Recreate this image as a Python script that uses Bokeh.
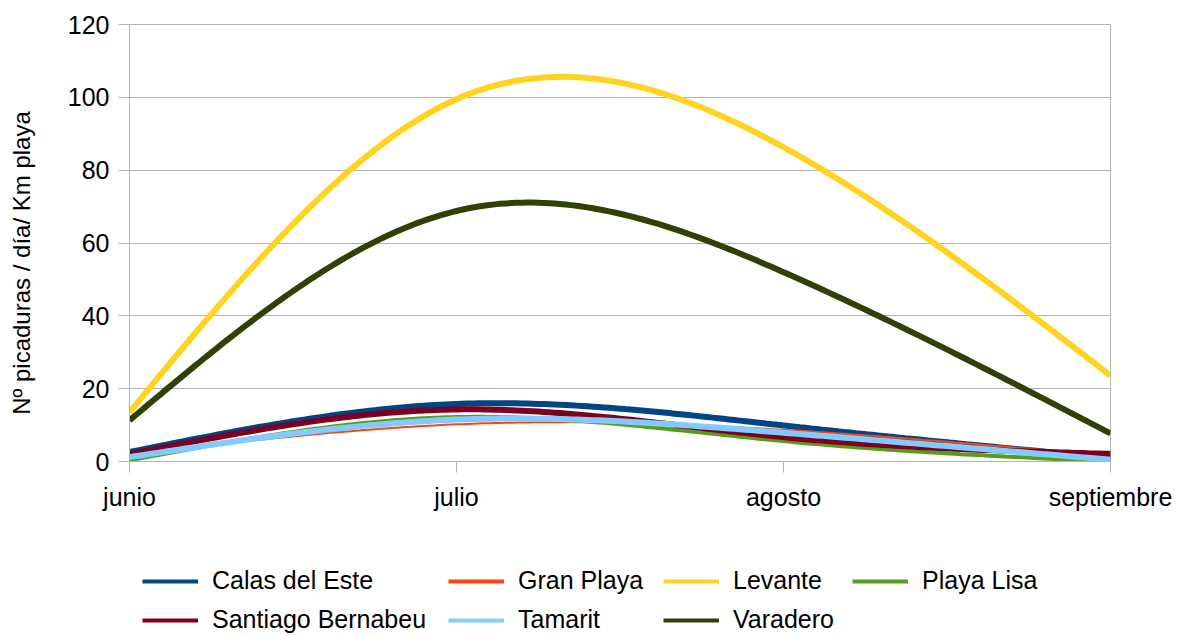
import numpy as np
from bokeh.plotting import figure
from bokeh.layouts import column
from bokeh.models import Range1d, FixedTicker, Legend, LegendItem
from bokeh.embed import file_html
from bokeh.resources import INLINE

# ---- data ----
months = ["junio", "julio", "agosto", "septiembre"]
series_names = ["Calas del Este", "Gran Playa", "Levante", "Playa Lisa",
                "Santiago Bernabeu", "Tamarit", "Varadero"]
calas_del_este = [2.6, 15.8, 9.9, 1.0]
gran_playa = [1.9, 10.2, 8.7, 1.5]
levante = [13.5, 99.5, 86.3, 23.6]
playa_lisa = [0.3, 12.2, 5.6, 0.0]
santiago_bernabeu = [2.0, 14.3, 6.7, 2.1]
tamarit = [1.2, 11.5, 7.9, 0.5]
varadero = [11.3, 68.8, 52.0, 7.7]
y_ticks = [0, 20, 40, 60, 80, 100, 120]
y_title = "Nº picaduras / día/ Km playa"

series_values = [calas_del_este, gran_playa, levante, playa_lisa,
                 santiago_bernabeu, tamarit, varadero]
colors = ["#004586", "#ff420e", "#ffd320", "#579d1c", "#7e0021", "#83caff", "#314004"]
widths = [6, 2, 6, 4, 6, 6, 6]


def smooth(vals, n=60):
    """Natural cubic spline rendering of a series (uniform category spacing)."""
    y = np.asarray(vals, dtype=float)
    k = len(y)
    x = np.arange(k, dtype=float)
    A = np.zeros((k, k))
    b = np.zeros(k)
    A[0, 0] = 1
    A[-1, -1] = 1
    for i in range(1, k - 1):
        A[i, i - 1] = 1
        A[i, i] = 4
        A[i, i + 1] = 1
        b[i] = 6 * (y[i - 1] - 2 * y[i] + y[i + 1])
    M = np.linalg.solve(A, b)
    xs, ys = [], []
    for i in range(k - 1):
        t = np.linspace(0, 1, n, endpoint=(i == k - 2))
        s = (M[i] * (1 - t) ** 3 / 6 + M[i + 1] * t ** 3 / 6
             + (y[i] - M[i] / 6) * (1 - t) + (y[i + 1] - M[i + 1] / 6) * t)
        xs.extend(x[i] + t)
        ys.extend(s)
    return xs, ys


FONT = "Liberation Sans"
GRID = "#b3b3b3"

p = figure(width=1178, height=530, output_backend="svg", toolbar_location=None,
           x_range=Range1d(0, 3), y_range=Range1d(0, 120),
           min_border_left=129, min_border_right=68, min_border_top=24,
           min_border_bottom=69)

p.background_fill_color = "white"
p.border_fill_color = "white"
p.outline_line_color = GRID
p.outline_line_width = 1

p.xgrid.grid_line_color = None
p.ygrid.grid_line_color = GRID
p.ygrid.grid_line_width = 1

# axes
p.xaxis.ticker = FixedTicker(ticks=list(range(len(months))))
p.xaxis.major_label_overrides = {i: m for i, m in enumerate(months)}
p.yaxis.ticker = FixedTicker(ticks=y_ticks)
for ax in (p.xaxis, p.yaxis):
    ax.axis_line_color = GRID
    ax.major_tick_line_color = GRID
    ax.major_tick_in = 0
    ax.major_tick_out = 11
    ax.minor_tick_line_color = None
    ax.major_label_text_font = FONT
    ax.major_label_text_font_size = "25px"
    ax.major_label_text_color = "black"
p.xaxis.major_label_standoff = 10
p.yaxis.major_label_standoff = 9
# trailing no-break spaces nudge the centred title slightly down, as in the original
p.yaxis.axis_label = y_title + "\u00a0" * 6
p.yaxis.axis_label_text_font = FONT
p.yaxis.axis_label_text_font_size = "24px"
p.yaxis.axis_label_text_font_style = "normal"
p.yaxis.axis_label_text_color = "black"
p.yaxis.axis_label_standoff = 30

for vals, c, w in zip(series_values, colors, widths):
    xs, ys = smooth(vals)
    p.line(xs, ys, line_color=c, line_width=w)

# ---- legend figure ----
q = figure(width=1178, height=106, output_backend="svg", toolbar_location=None,
           x_range=Range1d(0, 1), y_range=Range1d(0, 1),
           min_border_left=0, min_border_right=0, min_border_top=0,
           min_border_bottom=0)
q.axis.visible = False
q.grid.grid_line_color = None
q.outline_line_color = None
q.background_fill_color = "white"
q.border_fill_color = "white"

proxies = {}
for name, c in zip(series_names, colors):
    proxies[name] = q.line(x=[np.nan], y=[np.nan], line_color=c, line_width=4)

frame_left = 129
legend_columns = [(["Calas del Este", "Santiago Bernabeu"], 142),
                  (["Gran Playa", "Tamarit"], 448),
                  (["Levante", "Varadero"], 663),
                  (["Playa Lisa"], 852)]
for names, x0 in legend_columns:
    its = [LegendItem(label=n, renderers=[proxies[n]], index=0) for n in names]
    lg = Legend(items=its, orientation="vertical")
    lg.padding = 0
    lg.margin = 0
    lg.spacing = 10
    lg.glyph_width = 56
    lg.glyph_height = 20
    lg.label_standoff = 14
    lg.label_text_font = FONT
    lg.label_text_font_size = "25px"
    lg.label_text_color = "black"
    lg.border_line_alpha = 0
    lg.background_fill_alpha = 0
    n_missing = 2 - len(names)
    lg.location = (x0 - frame_left, 2 + n_missing * 39)
    q.add_layout(lg, "center")

layout = column(p, q, spacing=0)
open("out.html", "w").write(file_html(layout, INLINE))
